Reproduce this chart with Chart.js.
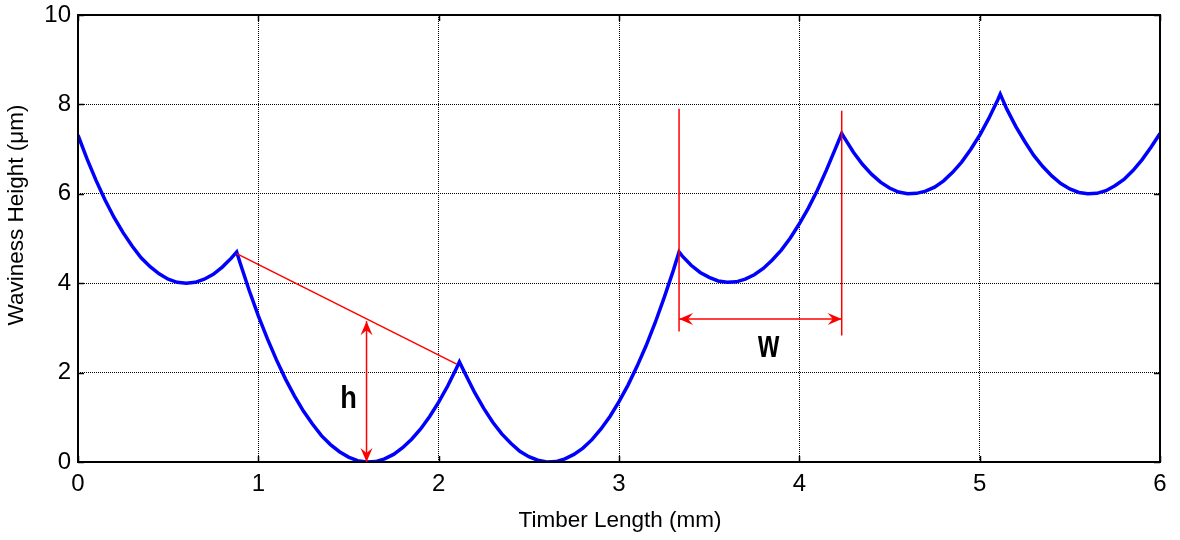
<!DOCTYPE html>
<html>
<head>
<meta charset="utf-8">
<script src="https://cdn.jsdelivr.net/npm/chart.js@4.4.1/dist/chart.umd.min.js"></script>
<style>
  html, body { margin: 0; padding: 0; background: #fff; }
  #wrap { width: 1180px; height: 540px; position: relative; }
</style>
</head>
<body>
<div id="wrap"><canvas id="c"></canvas></div>
<script>
// ---- data ----
const xValues = [0,0.05,0.1,0.15,0.2,0.25,0.3,0.35,0.4,0.45,0.5,0.55,0.6,0.65,0.7,0.75,0.8,0.85,0.88,
  0.9,0.95,1.0,1.05,1.1,1.15,1.2,1.25,1.3,1.35,1.4,1.45,1.5,1.55,1.6,1.65,1.7,1.75,1.8,1.85,1.9,1.95,2.0,2.05,2.1,2.115,
  2.15,2.2,2.25,2.3,2.35,2.4,2.45,2.5,2.55,2.6,2.65,2.7,2.75,2.8,2.85,2.9,2.95,3.0,3.05,3.1,3.15,3.2,3.25,3.3,3.333,
  3.35,3.4,3.45,3.5,3.55,3.6,3.65,3.7,3.75,3.8,3.85,3.9,3.95,4.0,4.05,4.1,4.15,4.2,4.235,
  4.25,4.3,4.35,4.4,4.45,4.5,4.55,4.6,4.65,4.7,4.75,4.8,4.85,4.9,4.95,5.0,5.05,5.1,5.114,
  5.15,5.2,5.25,5.3,5.35,5.4,5.45,5.5,5.55,5.6,5.65,5.7,5.75,5.8,5.85,5.9,5.95,6.0];
const heightValues = [7.31,6.78,6.30,5.86,5.47,5.13,4.83,4.57,4.37,4.21,4.09,4.02,4.00,4.02,4.09,4.20,4.36,4.56,4.70,
  4.44,3.83,3.27,2.76,2.29,1.86,1.48,1.14,0.85,0.59,0.39,0.23,0.11,0.03,0.00,0.01,0.07,0.17,0.32,0.51,0.74,1.02,1.34,1.70,2.11,2.24,
  1.95,1.55,1.20,0.89,0.63,0.42,0.24,0.12,0.04,0.00,0.01,0.07,0.17,0.31,0.50,0.74,1.02,1.35,1.72,2.14,2.60,3.11,3.67,4.27,4.70,
  4.61,4.40,4.24,4.13,4.05,4.02,4.03,4.09,4.19,4.33,4.52,4.74,5.01,5.33,5.68,6.08,6.53,7.01,7.35,
  7.25,6.93,6.66,6.44,6.26,6.13,6.04,6.00,6.01,6.06,6.15,6.29,6.48,6.71,6.99,7.31,7.68,8.10,8.23,
  7.90,7.51,7.17,6.86,6.61,6.40,6.23,6.11,6.03,6.00,6.01,6.07,6.18,6.32,6.52,6.76,7.04,7.35];
const xTicks = [0,1,2,3,4,5,6];
const yTicks = [0,2,4,6,8,10];
const xTitle = 'Timber Length (mm)';
const yTitle = 'Waviness Height (\u03bcm)';

// annotation geometry (data units)
const chordLine = [[0.88, 4.66], [2.10, 2.19]];
const hArrow = [[1.60, 0.0], [1.60, 3.15]];
const wLeftLine = [[3.333, 2.92], [3.333, 7.90]];
const wRightLine = [[4.235, 2.83], [4.235, 7.86]];
const wArrow = [[3.333, 3.20], [4.235, 3.20]];
const hLabel = ['h', 1.50, 1.20];
const wLabel = ['w', 3.83, 2.36];

const FONT = '"Liberation Sans", Arial, Helvetica, sans-serif';

const overlay = {
  id: 'overlay',
  afterDraw(chart) {
    const ctx = chart.ctx, xs = chart.scales.x, ys = chart.scales.y, a = chart.chartArea;
    const P = p => [xs.getPixelForValue(p[0]), ys.getPixelForValue(p[1])];
    ctx.save();
    // inward ticks
    ctx.strokeStyle = '#000'; ctx.lineWidth = 1.5;
    xTicks.forEach(v => {
      const px = Math.round(xs.getPixelForValue(v)) + 0.5;
      ctx.beginPath(); ctx.moveTo(px, a.bottom); ctx.lineTo(px, a.bottom - 6);
      ctx.moveTo(px, a.top); ctx.lineTo(px, a.top + 6); ctx.stroke();
    });
    yTicks.forEach(v => {
      const py = Math.round(ys.getPixelForValue(v)) + 0.5;
      ctx.beginPath(); ctx.moveTo(a.left, py); ctx.lineTo(a.left + 6, py);
      ctx.moveTo(a.right, py); ctx.lineTo(a.right - 6, py); ctx.stroke();
    });
    // frame
    ctx.lineWidth = 2; ctx.strokeStyle = '#000';
    ctx.strokeRect(a.left, a.top, a.right - a.left, a.bottom - a.top);

    // red annotations
    ctx.strokeStyle = '#ff0000'; ctx.fillStyle = '#ff0000'; ctx.lineWidth = 1.5;
    const seg = s => { const p1 = P(s[0]), p2 = P(s[1]); ctx.beginPath(); ctx.moveTo(p1[0], p1[1]); ctx.lineTo(p2[0], p2[1]); ctx.stroke(); };
    const head = (tip, from) => {
      const ang = Math.atan2(tip[1] - from[1], tip[0] - from[0]);
      const L = 14, W = 6, N = 9;
      ctx.save(); ctx.translate(tip[0], tip[1]); ctx.rotate(ang);
      ctx.beginPath(); ctx.moveTo(0, 0); ctx.lineTo(-L, -W); ctx.lineTo(-N, 0); ctx.lineTo(-L, W); ctx.closePath(); ctx.fill();
      ctx.restore();
    };
    const dbl = s => { seg(s); const p1 = P(s[0]), p2 = P(s[1]); head(p1, p2); head(p2, p1); };
    seg(chordLine); seg(wLeftLine); seg(wRightLine);
    dbl(hArrow); dbl(wArrow);

    // labels
    ctx.fillStyle = '#000'; ctx.textAlign = 'center'; ctx.textBaseline = 'alphabetic';
    const lab = (l, size, sx) => {
      const p = P([l[1], l[2]]);
      ctx.save(); ctx.translate(p[0], p[1]); ctx.scale(sx, 1);
      ctx.font = 'bold ' + size + 'px ' + FONT; ctx.fillText(l[0], 0, 0); ctx.restore();
    };
    lab(hLabel, 32, 0.85);
    lab(wLabel, 38, 0.72);

    // axis titles
    ctx.font = '22.5px ' + FONT;
    ctx.fillText(xTitle, (a.left + a.right) / 2 + 1, 527);
    ctx.save(); ctx.translate(17, 215); ctx.rotate(-Math.PI / 2);
    ctx.textBaseline = 'middle'; ctx.fillText(yTitle, 0, 0); ctx.restore();
    ctx.restore();
  }
};

new Chart(document.getElementById('c'), {
  type: 'line',
  data: {
    datasets: [{
      data: xValues.map((x, i) => ({ x: x, y: heightValues[i] })),
      borderColor: '#0000ff',
      borderWidth: 3.5,
      pointRadius: 0,
      tension: 0,
      fill: false
    }]
  },
  options: {
    responsive: true,
    maintainAspectRatio: false,
    animation: false,
    events: [],
    layout: { padding: { left: 0, top: 15, right: 20, bottom: 0 } },
    plugins: { legend: { display: false }, tooltip: { enabled: false } },
    scales: {
      x: {
        type: 'linear', min: 0, max: 6,
        afterFit: s => { s.height = 78; s.paddingLeft = 0; s.paddingRight = 0; },
        afterBuildTicks: s => { s.ticks = xTicks.map(v => ({ value: v })); },
        ticks: { color: '#000', font: { family: FONT, size: 24 }, padding: 8, maxRotation: 0, autoSkip: false },
        grid: { color: '#000', lineWidth: 1, drawTicks: false },
        border: { display: false, dash: [1, 1] }
      },
      y: {
        type: 'linear', min: 0, max: 10,
        afterFit: s => { s.width = 78; s.paddingTop = 0; s.paddingBottom = 0; },
        afterBuildTicks: s => { s.ticks = yTicks.map(v => ({ value: v })); },
        ticks: { color: '#000', font: { family: FONT, size: 24 }, padding: 7, autoSkip: false },
        grid: { color: '#000', lineWidth: 1, drawTicks: false },
        border: { display: false, dash: [1, 1] }
      }
    }
  },
  plugins: [overlay]
});
</script>
</body>
</html>
